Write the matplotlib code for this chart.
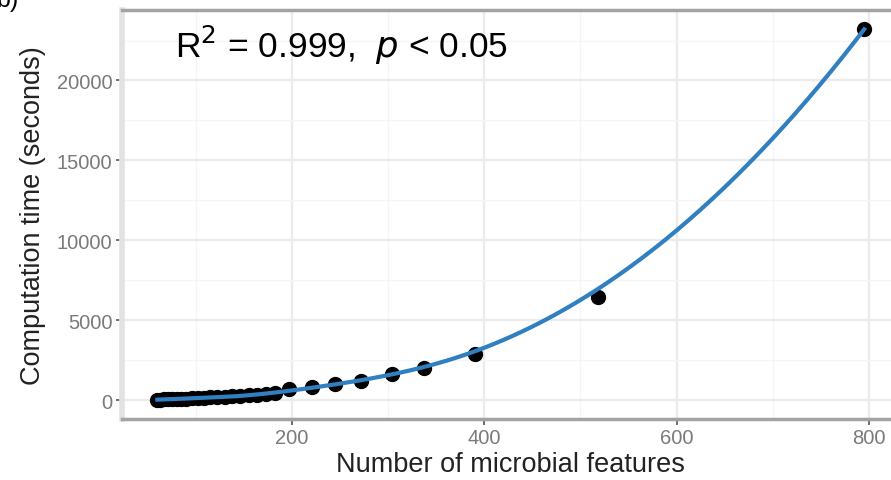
import numpy as np
import matplotlib.pyplot as plt

# datos
n_features = [60, 63, 67, 71, 75, 80, 85, 90, 96, 102, 108, 115, 122, 130,
              138, 146, 155, 164, 173, 182, 197, 221, 245, 272, 304, 337,
              390, 518, 795]
comp_time = [20, 30, 40, 50, 60, 70, 80, 95, 110, 125, 140, 160, 180, 205,
             230, 260, 290, 330, 370, 410, 690, 810, 1000, 1190, 1620, 2000,
             2850, 6440, 23250]

x_ticks = [200, 400, 600, 800]
y_ticks = [0, 5000, 10000, 15000, 20000]

plt.rcParams["font.family"] = ["Liberation Sans", "DejaVu Sans"]

x = np.array(n_features, dtype=float)
y = np.array(comp_time, dtype=float)


def local_fit(xd, yd, x0, q):
    # ajuste cuadratico local con pesos tricubo -> valor y pendiente
    d = np.abs(xd - x0)
    h = np.sort(d)[q - 1]
    w = np.clip(1 - (d / h)**3, 0, None)**3
    X = np.vstack([np.ones_like(xd), xd - x0, (xd - x0)**2]).T
    W = np.diag(w)
    beta = np.linalg.lstsq(X.T @ W @ X, X.T @ W @ yd, rcond=None)[0]
    return beta[0], beta[1]


def loess(xd, yd, xs, span=0.75, cell=0.2):
    # loess tipo R (vertices + interpolacion de Hermite)
    n = len(xd)
    q = int(np.floor(n * span))
    fc = int(np.floor(n * span * cell))
    xsrt = np.sort(xd)
    margin = 0.005 * (xsrt[-1] - xsrt[0])
    verts = {xsrt[0] - margin, xsrt[-1] + margin}

    def split(l, u):
        if u - l + 1 <= fc:
            return
        m = (l + u) // 2
        v = (xsrt[m] + xsrt[m + 1]) / 2
        verts.add(v)
        split(l, m)
        split(m + 1, u)

    split(0, n - 1)
    vx = np.array(sorted(verts))
    vals = np.array([local_fit(xd, yd, v, q) for v in vx])
    vy, vd = vals[:, 0], vals[:, 1]
    out = np.zeros_like(xs)
    for i, x0 in enumerate(xs):
        j = min(np.searchsorted(vx, x0) - 1, len(vx) - 2)
        j = max(j, 0)
        hh = vx[j + 1] - vx[j]
        t = (x0 - vx[j]) / hh
        h00 = 2*t**3 - 3*t**2 + 1
        h10 = t**3 - 2*t**2 + t
        h01 = -2*t**3 + 3*t**2
        h11 = t**3 - t**2
        out[i] = h00*vy[j] + h10*hh*vd[j] + h01*vy[j+1] + h11*hh*vd[j+1]
    return out


x_fit = np.linspace(x.min(), x.max(), 300)
y_fit = loess(x, y, x_fit)

fig = plt.figure(figsize=(8.91, 4.81), dpi=100)
ax = fig.add_axes([122/891, 61.4/481, 777.5/891, 408.6/481])

xr = x.max() - x.min()
yr = y.max() - 0
ax.set_xlim(x.min() - 0.05*xr, x.max() + 0.05*xr)
ax.set_ylim(0 - 0.05*yr, y.max() + 0.05*yr)

ax.set_xticks(x_ticks)
ax.set_yticks(y_ticks)
ax.set_xticks([100, 300, 500, 700], minor=True)
ax.set_yticks([2500, 7500, 12500, 17500, 22500], minor=True)
ax.grid(True, which="major", color="#ebebeb", lw=1.6, zorder=0)
ax.grid(True, which="minor", color="#f5f5f5", lw=1.0, zorder=0)
ax.set_axisbelow(True)

ax.scatter(x, y, s=100, color="black", zorder=3)
ax.plot(x_fit, y_fit, color="#2f7fc1", lw=3.0, zorder=4)

for s in ["top", "bottom"]:
    ax.spines[s].set_color("#a3a3a3")
    ax.spines[s].set_linewidth(2.5)
ax.spines["left"].set_color("#e2e2e2")
ax.spines["left"].set_linewidth(4)
ax.spines["right"].set_visible(False)

ax.tick_params(which="major", length=4, width=1.2, color="#555555",
               labelsize=14.5, labelcolor="#7a7a7a", pad=3)
ax.tick_params(which="minor", length=0)

ax.set_xlabel("Number of microbial features", fontsize=19.5, color="#222222", labelpad=3)
ax.set_ylabel("Computation time (seconds)", fontsize=19.5, color="#222222", labelpad=8)

ax.text(0.068, 0.915, r"R$^2$ = 0.999,  $\it{p}$ < 0.05", transform=ax.transAxes,
        fontsize=25.5, color="black", va="center", ha="left")

fig.text(-0.004, 1.0, "b)", fontsize=18, color="black", va="center", ha="left")

fig.savefig("out.png", dpi=100)
